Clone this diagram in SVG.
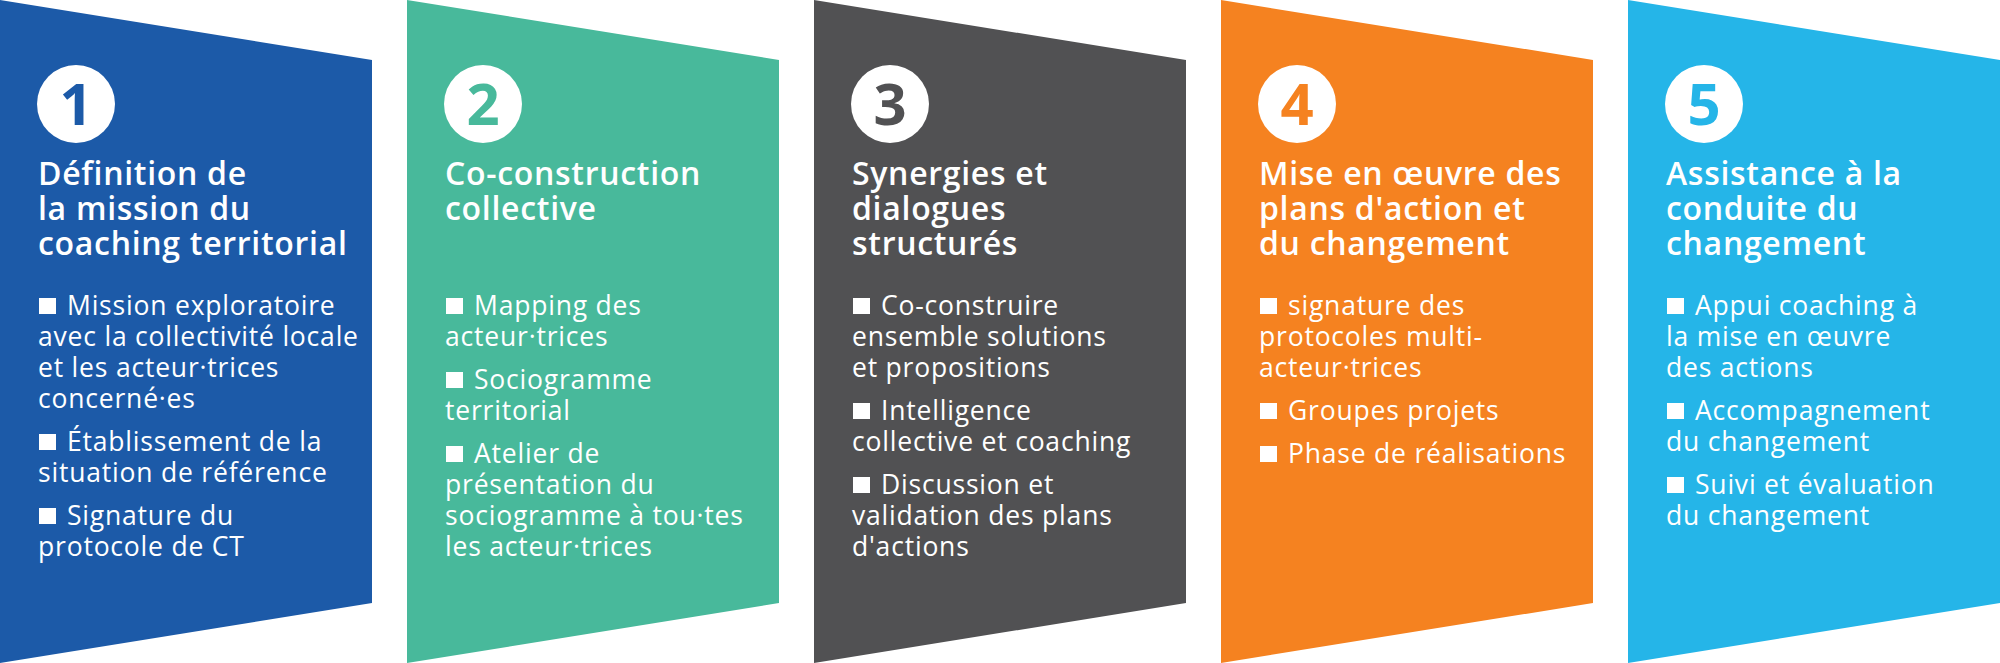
<svg xmlns="http://www.w3.org/2000/svg" width="2000" height="663" viewBox="0 0 2000 663">
<style>
.title{font-family:"Open Sans","Liberation Sans",sans-serif;font-weight:600;font-size:32px;letter-spacing:0.7px;fill:#fff}
.item{font-family:"Open Sans","Liberation Sans",sans-serif;font-weight:400;font-size:26.5px;letter-spacing:0.8px;fill:#fff}
.num{font-family:"Open Sans","Liberation Sans",sans-serif;font-weight:700;font-size:58px;text-anchor:middle}
.circ{fill:#fff}
.sq{fill:#fff}
</style>
<defs>
<polygon id="panel" points="0,0 372,60 372,603 0,663"/>
<rect id="bul" x="39" y="-17" width="17" height="16"/>
</defs>
<rect width="2000" height="663" fill="#fff"/>

<g id="step1" transform="translate(0,0)">
<use href="#panel" fill="#1C5AA8"/>
<circle class="circ" cx="76" cy="104" r="39"/>
<text class="num" x="76" y="125" fill="#1C5AA8">1</text>
<text class="title"><tspan x="38" y="185">Définition de</tspan><tspan x="38" y="220">la mission du</tspan><tspan x="38" y="255">coaching territorial</tspan></text>
<use href="#bul" class="sq" y="315"/>
<use href="#bul" class="sq" y="451"/>
<use href="#bul" class="sq" y="525"/>
<text class="item"><tspan x="67" y="315">Mission exploratoire</tspan><tspan x="38" y="346">avec la collectivité locale</tspan><tspan x="38" y="377">et les acteur·trices</tspan><tspan x="38" y="408">concerné·es</tspan><tspan x="67" y="451">Établissement de la</tspan><tspan x="38" y="482">situation de référence</tspan><tspan x="67" y="525">Signature du</tspan><tspan x="38" y="556">protocole de CT</tspan></text>
</g>

<g id="step2" transform="translate(407,0)">
<use href="#panel" fill="#48B99B"/>
<circle class="circ" cx="76" cy="104" r="39"/>
<text class="num" x="76" y="125" fill="#48B99B">2</text>
<text class="title"><tspan x="38" y="185">Co-construction</tspan><tspan x="38" y="220">collective</tspan></text>
<use href="#bul" class="sq" y="315"/>
<use href="#bul" class="sq" y="389"/>
<use href="#bul" class="sq" y="463"/>
<text class="item"><tspan x="67" y="315">Mapping des</tspan><tspan x="38" y="346">acteur·trices</tspan><tspan x="67" y="389">Sociogramme</tspan><tspan x="38" y="420">territorial</tspan><tspan x="67" y="463">Atelier de</tspan><tspan x="38" y="494">présentation du</tspan><tspan x="38" y="525">sociogramme à tou·tes</tspan><tspan x="38" y="556">les acteur·trices</tspan></text>
</g>

<g id="step3" transform="translate(814,0)">
<use href="#panel" fill="#515153"/>
<circle class="circ" cx="76" cy="104" r="39"/>
<text class="num" x="76" y="125" fill="#515153">3</text>
<text class="title"><tspan x="38" y="185">Synergies et</tspan><tspan x="38" y="220">dialogues</tspan><tspan x="38" y="255">structurés</tspan></text>
<use href="#bul" class="sq" y="315"/>
<use href="#bul" class="sq" y="420"/>
<use href="#bul" class="sq" y="494"/>
<text class="item"><tspan x="67" y="315">Co-construire</tspan><tspan x="38" y="346">ensemble solutions</tspan><tspan x="38" y="377">et propositions</tspan><tspan x="67" y="420">Intelligence</tspan><tspan x="38" y="451">collective et coaching</tspan><tspan x="67" y="494">Discussion et</tspan><tspan x="38" y="525">validation des plans</tspan><tspan x="38" y="556">d'actions</tspan></text>
</g>

<g id="step4" transform="translate(1221,0)">
<use href="#panel" fill="#F58220"/>
<circle class="circ" cx="76" cy="104" r="39"/>
<text class="num" x="76" y="125" fill="#F58220">4</text>
<text class="title"><tspan x="38" y="185">Mise en œuvre des</tspan><tspan x="38" y="220">plans d'action et</tspan><tspan x="38" y="255">du changement</tspan></text>
<use href="#bul" class="sq" y="315"/>
<use href="#bul" class="sq" y="420"/>
<use href="#bul" class="sq" y="463"/>
<text class="item"><tspan x="67" y="315">signature des</tspan><tspan x="38" y="346">protocoles multi-</tspan><tspan x="38" y="377">acteur·trices</tspan><tspan x="67" y="420">Groupes projets</tspan><tspan x="67" y="463">Phase de réalisations</tspan></text>
</g>

<g id="step5" transform="translate(1628,0)">
<use href="#panel" fill="#25B5E8"/>
<circle class="circ" cx="76" cy="104" r="39"/>
<text class="num" x="76" y="125" fill="#25B5E8">5</text>
<text class="title"><tspan x="38" y="185">Assistance à la</tspan><tspan x="38" y="220">conduite du</tspan><tspan x="38" y="255">changement</tspan></text>
<use href="#bul" class="sq" y="315"/>
<use href="#bul" class="sq" y="420"/>
<use href="#bul" class="sq" y="494"/>
<text class="item"><tspan x="67" y="315">Appui coaching à</tspan><tspan x="38" y="346">la mise en œuvre</tspan><tspan x="38" y="377">des actions</tspan><tspan x="67" y="420">Accompagnement</tspan><tspan x="38" y="451">du changement</tspan><tspan x="67" y="494">Suivi et évaluation</tspan><tspan x="38" y="525">du changement</tspan></text>
</g>

<g id="connectors"/>
</svg>
